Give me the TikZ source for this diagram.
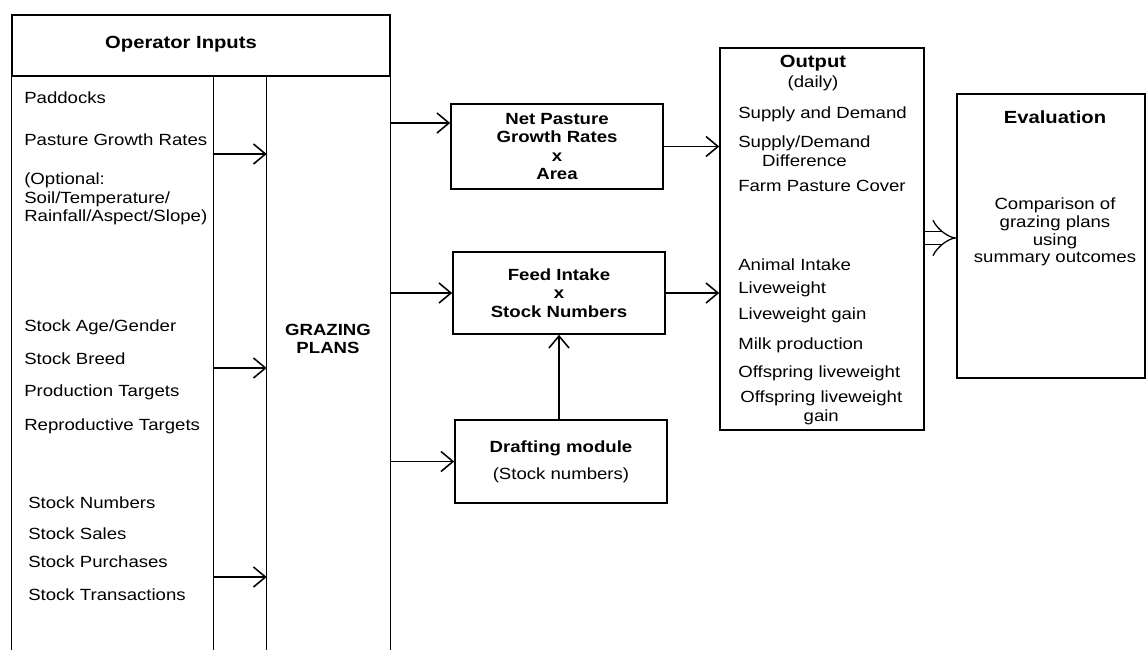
\documentclass[tikz,border=0pt]{standalone}
\usepackage{fontspec}
\setmainfont{Liberation Sans}[FakeStretch=1.15]
\usetikzlibrary{arrows.meta}

\tikzset{
  line/.style={line width=1.1pt},
  box/.style={draw, line width=1.1pt, inner sep=0pt, align=center},
  col/.style={inner sep=0pt, minimum height=14.35cm},
  arr/.style={line width=1.1pt, -{Straight Barb[length=3mm,width=5mm]}},
  dbl/.style={double, double distance=8.5pt, line width=0.9pt, -{Implies}},
  txt/.style={inner sep=0pt, font=\fontsize{11.5}{13.5}\selectfont},
  item/.style={txt, anchor=west},
  head/.style={inner sep=0pt, align=center, font=\bfseries\fontsize{12.5}{15}\selectfont},
  bld/.style={font=\bfseries\fontsize{11.5}{13.1}\selectfont}
}

\begin{document}
\begin{tikzpicture}[x=0.025cm, y=-0.025cm]
  \useasboundingbox (0,0) rectangle (1146,652);

  % operator inputs block
  \node[box, minimum width=9.45cm, minimum height=1.525cm] (header) at (201,45.5) {};
  \node[head] (title) at (181,44) {Operator Inputs};
  \node[col, minimum width=5.025cm] (inputs) at (112.5,363) {};
  \node[col, minimum width=1.35cm] (gap) at (240,363) {};
  \node[col, minimum width=3.075cm] (plans) at (328.5,363) {};
  \draw[line] (inputs.north west) -- (inputs.south west);
  \draw[line] (inputs.north east) -- (inputs.south east);
  \draw[line] (plans.north west) -- (plans.south west);
  \draw[line] (plans.north east) -- (plans.south east);
  \node[txt, bld, align=center] (planstxt) at (328,339) {GRAZING\\PLANS};

  \foreach \y/\t [count=\i] in {98/{Paddocks}, 140/{Pasture Growth Rates},
      180/{(Optional:}, 199/{Soil/Temperature/}, 217/{Rainfall/Aspect/Slope)},
      327/{Stock Age/Gender}, 359/{Stock Breed}, 392/{Production Targets},
      426/{Reproductive Targets}}
    \node[item] (in\i) at (24,\y) {\t};
  \foreach \y/\t [count=\i] in {503/{Stock Numbers}, 534/{Stock Sales},
      562/{Stock Purchases}, 595/{Stock Transactions}}
    \node[item] (st\i) at (28,\y) {\t};

  % model boxes
  \node[box, bld, minimum width=5.3cm, minimum height=2.125cm] (net) at (557,146.5) {Net Pasture\\Growth Rates\\x\\Area};
  \node[box, bld, minimum width=5.3cm, minimum height=2.05cm] (feed) at (559,293) {Feed Intake\\x\\Stock Numbers};
  \node[box, minimum width=5.3cm, minimum height=2.075cm] (draft) at (561,461.5)
    {\bfseries\fontsize{11.5}{13}\selectfont Drafting module\\[7pt]\fontsize{11.5}{13}\selectfont (Stock numbers)};

  % output block
  \node[box, minimum width=5.1cm, minimum height=9.55cm] (output) at (822,239) {};
  \node[head] (outtitle) at (813,63) {Output};
  \node[txt] (daily) at (813,83) {(daily)};
  \foreach \y/\t [count=\i] in {114/{Supply and Demand}, 186/{Farm Pasture Cover},
      265/{Animal Intake}, 289/{Liveweight}, 315/{Liveweight gain},
      345/{Milk production}, 373/{Offspring liveweight}}
    \node[item] (out\i) at (738,\y) {\t};
  \node[item, align=center] (diff) at (738,151) {Supply/Demand\\Difference};
  \node[item, align=center] (offgain) at (740,408) {Offspring liveweight\\gain};

  % evaluation block
  \node[box, minimum width=4.7cm, minimum height=7.1cm] (eval) at (1051,236) {};
  \node[head] (evaltitle) at (1055,117) {Evaluation};
  \node[txt, align=center, font=\fontsize{11.5}{12.6}\selectfont] (compare) at (1055,232)
    {Comparison of\\grazing plans\\using\\summary outcomes};

  % connectors
  \foreach \y in {154,368,577}
    \draw[arr] (inputs.east |- 0,\y) -- (plans.west |- 0,\y);
  \draw[arr] (plans.east |- 0,123) -- (net.west |- 0,123);
  \draw[arr] (plans.east |- feed.west) -- (feed.west);
  \draw[arr] (plans.east |- draft.west) -- (draft.west);
  \draw[arr] (net.east) -- (output.west |- net.east);
  \draw[arr] (feed.east) -- (output.west |- feed.east);
  \draw[arr] (draft.north -| feed.south) -- (feed.south);
  \draw[dbl] (output.east |- 0,238) -- (eval.west |- 0,238); % double arrow
\end{tikzpicture}
\end{document}
